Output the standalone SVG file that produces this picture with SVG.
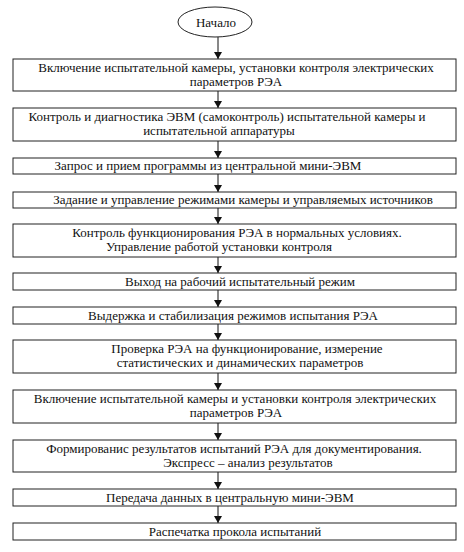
<svg xmlns="http://www.w3.org/2000/svg" width="464" height="552" viewBox="0 0 464 552">
<defs>
<marker id="ah" markerWidth="7" markerHeight="8" refX="7" refY="4" orient="auto" markerUnits="userSpaceOnUse">
<path d="M0,0 L7,4 L0,8 Z" fill="#111"/>
</marker>
</defs>
<style>
.b{fill:#fff;stroke:#222;stroke-width:1}
.t{font-family:'Liberation Serif','Times New Roman',serif;font-size:13px;fill:#111;text-anchor:middle}
.c{stroke:#111;stroke-width:1;fill:none;marker-end:url(#ah)}
</style>
<rect width="464" height="552" fill="#fff"/>
<g id="connectors">
<line class="c" x1="218" y1="37" x2="218" y2="59"/>
<line class="c" x1="218" y1="91" x2="218" y2="108"/>
<line class="c" x1="218" y1="141" x2="218" y2="158"/>
<line class="c" x1="218" y1="174" x2="218" y2="192"/>
<line class="c" x1="218" y1="208" x2="218" y2="224"/>
<line class="c" x1="218" y1="257" x2="218" y2="273"/>
<line class="c" x1="218" y1="290" x2="218" y2="307"/>
<line class="c" x1="218" y1="324" x2="218" y2="340"/>
<line class="c" x1="218" y1="373" x2="218" y2="390"/>
<line class="c" x1="218" y1="423" x2="218" y2="440"/>
<line class="c" x1="218" y1="472" x2="218" y2="489"/>
<line class="c" x1="218" y1="506" x2="218" y2="523"/>
</g>
<g id="start">
<ellipse class="b" cx="215" cy="22" rx="37" ry="15"/>
<text class="t" x="216" y="26.5">Начало</text>
</g>
<g id="n1">
<rect class="b" x="13" y="59" width="443" height="32"/>
<text class="t" x="236" y="72">Включение испытательной камеры, установки контроля электрических</text>
<text class="t" x="236" y="86">параметров РЭА</text>
</g>
<g id="n2">
<rect class="b" x="13" y="108" width="443" height="33"/>
<text class="t" x="227" y="121">Контроль и диагностика ЭВМ (самоконтроль) испытательной камеры и</text>
<text class="t" x="219" y="135">испытательной аппаратуры</text>
</g>
<g id="n3">
<rect class="b" x="13" y="158" width="443" height="16"/>
<text class="t" x="208" y="170">Запрос и прием программы из центральной мини-ЭВМ</text>
</g>
<g id="n4">
<rect class="b" x="13" y="192" width="443" height="16"/>
<text class="t" x="243" y="204">Задание и управление режимами камеры и управляемых источников</text>
</g>
<g id="n5">
<rect class="b" x="13" y="224" width="443" height="33"/>
<text class="t" x="237" y="237">Контроль функционирования РЭА в нормальных условиях.</text>
<text class="t" x="219" y="251">Управление работой установки контроля</text>
</g>
<g id="n6">
<rect class="b" x="13" y="273" width="443" height="17"/>
<text class="t" x="240" y="285.5">Выход на рабочий испытательный режим</text>
</g>
<g id="n7">
<rect class="b" x="13" y="307" width="443" height="17"/>
<text class="t" x="233" y="319.5">Выдержка и стабилизация режимов испытания РЭА</text>
</g>
<g id="n8">
<rect class="b" x="13" y="340" width="443" height="33"/>
<text class="t" x="247" y="353">Проверка РЭА на функционирование, измерение</text>
<text class="t" x="240" y="367">статистических и динамических параметров</text>
</g>
<g id="n9">
<rect class="b" x="13" y="390" width="443" height="33"/>
<text class="t" x="235" y="403">Включение испытательной камеры и установки контроля электрических</text>
<text class="t" x="236" y="417">параметров РЭА</text>
</g>
<g id="n10">
<rect class="b" x="13" y="440" width="443" height="32"/>
<text class="t" x="234" y="453">Формированис результатов испытаний РЭА для документирования.</text>
<text class="t" x="248" y="467">Экспресс – анализ результатов</text>
</g>
<g id="n11">
<rect class="b" x="13" y="489" width="443" height="17"/>
<text class="t" x="230" y="501.5">Передача данных в центральную мини-ЭВМ</text>
</g>
<g id="n12">
<rect class="b" x="13" y="523" width="443" height="17"/>
<text class="t" x="235" y="535.5">Распечатка прокола испытаний</text>
</g>
</svg>
